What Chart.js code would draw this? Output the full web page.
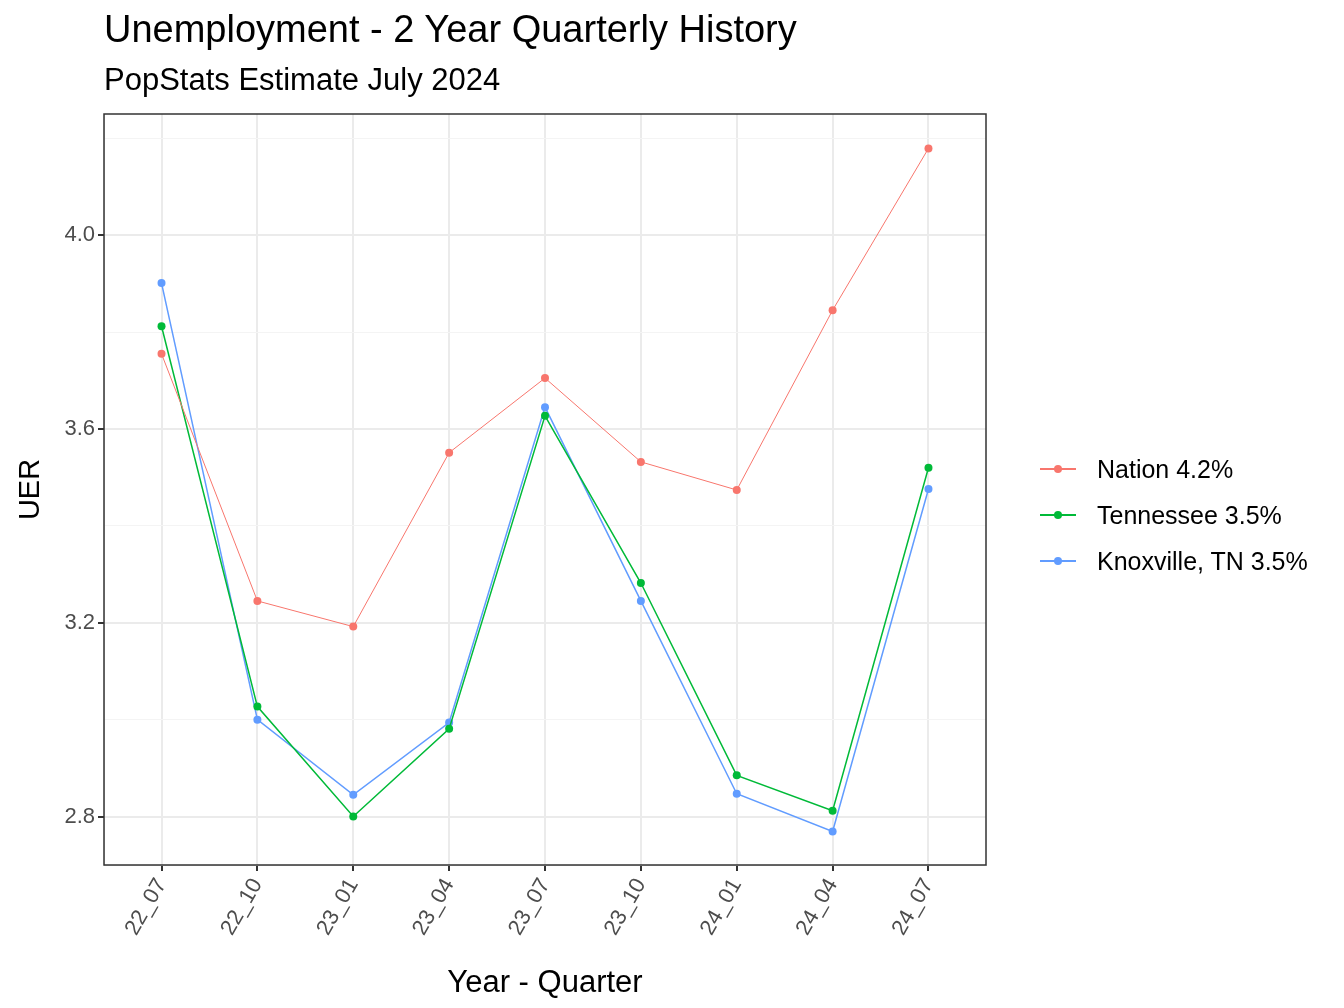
<!DOCTYPE html>
<html><head><meta charset="utf-8">
<script src="https://cdn.jsdelivr.net/npm/chart.js@4"></script>
<style>
body{margin:0;background:#fff;font-family:Arial,"Liberation Sans",sans-serif;}
#wrap{position:relative;width:1344px;height:1008px;}
.t{position:absolute;left:104px;color:#000;white-space:nowrap;}
.leg{position:absolute;left:1040px;font-size:25px;}
.leg div{position:relative;height:46px;line-height:46px;padding-left:57px;}
.leg i{position:absolute;left:0;top:22px;width:36px;height:1.5px;}
.leg b{position:absolute;left:14px;top:19px;width:8px;height:8px;border-radius:50%;}
</style></head>
<body><div id="wrap">
<canvas id="c" width="1344" height="1008"></canvas>
<div class="t" style="top:8px;font-size:38px">Unemployment - 2 Year Quarterly History</div>
<div class="t" style="top:62px;font-size:31px">PopStats Estimate July 2024</div>
<div class="leg" id="leg" style="top:446px"></div>
</div>
<script>
const quarters = ['22_07','22_10','23_01','23_04','23_07','23_10','24_01','24_04','24_07'];
const nation = [3.755,3.245,3.192,3.551,3.705,3.532,3.474,3.845,4.179];
const tennessee = [3.812,3.027,2.800,2.981,3.627,3.282,2.885,2.812,3.520];
const knoxville = [3.901,3.000,2.845,2.994,3.645,3.245,2.847,2.769,3.476];
const seriesNames = ['Nation 4.2%','Tennessee 3.5%','Knoxville, TN 3.5%'];
const colors = ['#F8766D','#00BA38','#619CFF'];

const frame = {
    id: 'frame',
    afterDraw(chart) {
        const a = chart.chartArea, ctx = chart.ctx;
        ctx.save();
        ctx.strokeStyle = '#333';
        ctx.lineWidth = 1.5;
        ctx.strokeRect(a.left, a.top, a.right - a.left, a.bottom - a.top);
        ctx.restore();
    }
};

const series = [nation, tennessee, knoxville];
new Chart(document.getElementById('c'), {
    type: 'line',
    data: {
        datasets: series.map((s, k) => ({
            label: seriesNames[k],
            data: s.map((v, i) => ({x: i, y: v})),
            borderColor: colors[k],
            backgroundColor: colors[k],
            borderWidth: k === 0 ? 1 : 1.5,
            pointRadius: 4,
            pointBorderWidth: 0,
            tension: 0
        }))
    },
    plugins: [frame],
    options: {
        responsive: false,
        animation: false,
        layout: {padding: {left: 10, top: 114, right: 358, bottom: 6}},
        plugins: {legend: {display: false}, tooltip: {enabled: false}},
        scales: {
            x: {
                type: 'linear', min: -0.6, max: 8.6,
                afterBuildTicks: s => { s.ticks = quarters.map((q, i) => ({value: i})); },
                afterFit: s => { s.height = 1008 - 865 - 6; },
                ticks: {
                    callback: v => quarters[v],
                    maxRotation: 60, minRotation: 60,
                    color: '#4d4d4d', font: {size: 22, family: 'Arial'}
                },
                grid: {color: '#ebebeb', lineWidth: 2, tickColor: '#333', tickLength: 6},
                title: {display: true, text: 'Year - Quarter', color: '#000', font: {size: 31, family: 'Arial'}, padding: 0}
            },
            y: {
                min: 2.7, max: 4.25,
                afterBuildTicks: s => { s.ticks = [2.8,3.0,3.2,3.4,3.6,3.8,4.0,4.2].map(v => ({value: v})); },
                afterFit: s => { s.width = 94; },
                ticks: {
                    callback: v => (Math.round(v * 10) % 4 === 0) ? v.toFixed(1) : '',
                    color: '#4d4d4d', font: {size: 22, family: 'Arial'}
                },
                grid: {
                    color: c => (Math.round(c.tick.value * 10) % 4 === 0) ? '#ebebeb' : '#f4f4f4',
                    lineWidth: c => (Math.round(c.tick.value * 10) % 4 === 0) ? 2 : 1,
                    tickColor: c => (Math.round(c.tick.value * 10) % 4 === 0) ? '#333' : 'rgba(0,0,0,0)',
                    tickLength: 6
                },
                title: {display: true, text: 'UER', color: '#000', font: {size: 29, family: 'Arial'}, padding: 4}
            }
        }
    }
});

document.getElementById('leg').innerHTML = seriesNames.map((n, k) =>
    `<div><i style="background:${colors[k]}"></i><b style="background:${colors[k]}"></b>${n}</div>`).join('');
</script>
</body></html>
